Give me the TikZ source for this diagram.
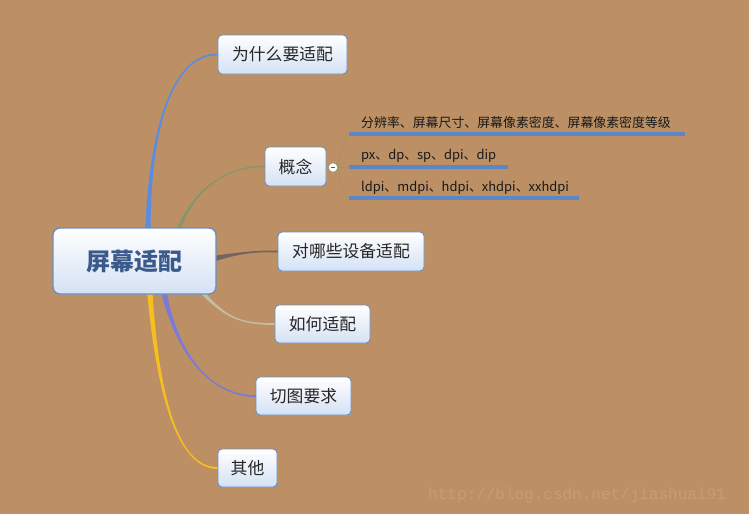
\documentclass[tikz,border=0pt]{standalone}
\usepackage{fontspec}
\setmainfont{Liberation Sans}
\newfontfamily\cjk{Noto Sans CJK SC}
\newfontfamily\wmfont{Liberation Mono}
\usetikzlibrary{calc,backgrounds}
\definecolor{bgtan}{RGB}{188,144,100}
\definecolor{boxborder}{RGB}{106,143,192}
\definecolor{boxbottom}{RGB}{212,225,244}
\definecolor{titleblue}{RGB}{58,90,140}
\definecolor{ulblue}{RGB}{91,135,201}
\definecolor{brblue}{RGB}{90,140,224}
\definecolor{brolive}{RGB}{138,150,105}
\definecolor{brdark}{RGB}{118,100,100}
\definecolor{brlight}{RGB}{196,190,160}
\definecolor{brpurple}{RGB}{122,122,216}
\definecolor{bryellow}{RGB}{246,190,30}
\definecolor{thinline}{RGB}{150,150,112}
\definecolor{wmcol}{RGB}{198,158,116}
\tikzset{
  topic/.style={draw=boxborder, line width=0.9pt, rounded corners=4pt,
    top color=white, bottom color=boxbottom, font=\cjk\fontsize{16.8}{18}\selectfont,
    text=black!85, inner sep=0pt},
  central/.style={topic, line width=1.4pt, rounded corners=7pt,
    font=\cjk\bfseries\fontsize{24}{28}\selectfont, text=titleblue},
  subtext/.style={font=\cjk\fontsize{12.9}{14}\selectfont, text=black!90, anchor=base west, inner sep=0pt},
  uline/.style={draw=ulblue, line width=3.4pt},
  thin/.style={draw=thinline, line width=0.6pt},
}
\newcommand{\mybranch}[7]{%
  % #1 colour, #2 start, #3 c1, #4 c2, #5 end, #6 start half-offset vector, #7 end half-offset vector
  \filldraw[#1, line width=1.3pt, line join=round] ($#2-#6$) .. controls #3 and #4 .. ($#5-#7$) -- ($#5+#7$) .. controls #4 and #3 .. ($#2+#6$) -- cycle;
}
\begin{document}
\begin{tikzpicture}[x=1pt,y=-1pt]
\begin{scope}[on background layer]
\fill[bgtan] (0,0) rectangle (749,514);
\end{scope}
\useasboundingbox (0,0) rectangle (749,514);

\node[central, minimum width=163pt, minimum height=66pt] (c) at (134.5,261) {屏幕适配};
\node[topic, minimum width=129pt, minimum height=39pt] (a) at (282.5,54.5) {为什么要适配};
\node[topic, minimum width=61pt, minimum height=39pt] (b) at (295.5,166.5) {概念};
\node[topic, minimum width=146pt, minimum height=39pt] (d) at (351,251.5) {对哪些设备适配};
\node[topic, minimum width=95pt, minimum height=38pt] (e) at (322.5,324) {如何适配};
\node[topic, minimum width=95pt, minimum height=38pt] (f) at (303.5,396) {切图要求};
\node[topic, minimum width=59pt, minimum height=38pt] (g) at (247.5,468) {其他};

% sub items
\node[subtext] (s1) at (361,127) {分辨率、屏幕尺寸、屏幕像素密度、屏幕像素密度等级};
\node[subtext] (s2) at (361,159) {px、dp、sp、dpi、dip};
\node[subtext] (s3) at (361,191) {ldpi、mdpi、hdpi、xhdpi、xxhdpi};
\coordinate (u1s) at (349,134); \coordinate (u1e) at (685,134);
\coordinate (u2s) at (349,167); \coordinate (u2e) at (508,167);
\coordinate (u3s) at (349,198); \coordinate (u3e) at (579,198);
\draw[uline] (u1s) -- (u1e);
\draw[uline] (u2s) -- (u2e);
\draw[uline] (u3s) -- (u3e);

\node[circle, draw=thinline, fill=white, line width=0.7pt, minimum size=9.5pt, inner sep=0pt] (tog) at (333,167.5) {};
\draw[gray!70!black, line width=1pt] ($(tog.center)+(-2.3,0)$) -- ($(tog.center)+(2.3,0)$);
\draw[thin] (tog.east) .. controls (341,155) and (343,134) .. (u1s);
\draw[thin] (tog.east) -- (u2s);
\draw[thin] (tog.east) .. controls (341,180) and (343,198) .. (u3s);

% branches
\begin{scope}[on background layer]
\mybranch{brblue}{($(c.north)+(13.5,0)$)}{(150,130)}{(172,54)}{(a.west)}{(2,0)}{(0,0.3)}
\mybranch{brolive}{($(c.north)+(45,0)$)}{(195,188)}{(228,166)}{(b.west)}{(1.6,0)}{(0,0.2)}
\mybranch{brdark}{($(c.east)+(0,-3)$)}{(240,253)}{(255,251)}{(d.west)}{(0,2)}{(0,0.3)}
\mybranch{brlight}{($(c.south)+(70,0)$)}{(228,320)}{(245,324)}{(e.west)}{(1.6,0)}{(0,0.3)}
\mybranch{brpurple}{($(c.south)+(30,0)$)}{(180,362)}{(215,396)}{(f.west)}{(2,0)}{(0,0.3)}
\mybranch{bryellow}{($(c.south)+(15.5,0)$)}{(160,420)}{(185,468)}{(g.west)}{(2,0)}{(0,0.3)}
\end{scope}

\node[font=\wmfont\fontsize{16}{18}\selectfont, text=wmcol, anchor=base west, inner sep=0pt] (wm) at (428,499) {http://blog.csdn.net/jiashuai91};
\end{tikzpicture}
\end{document}
